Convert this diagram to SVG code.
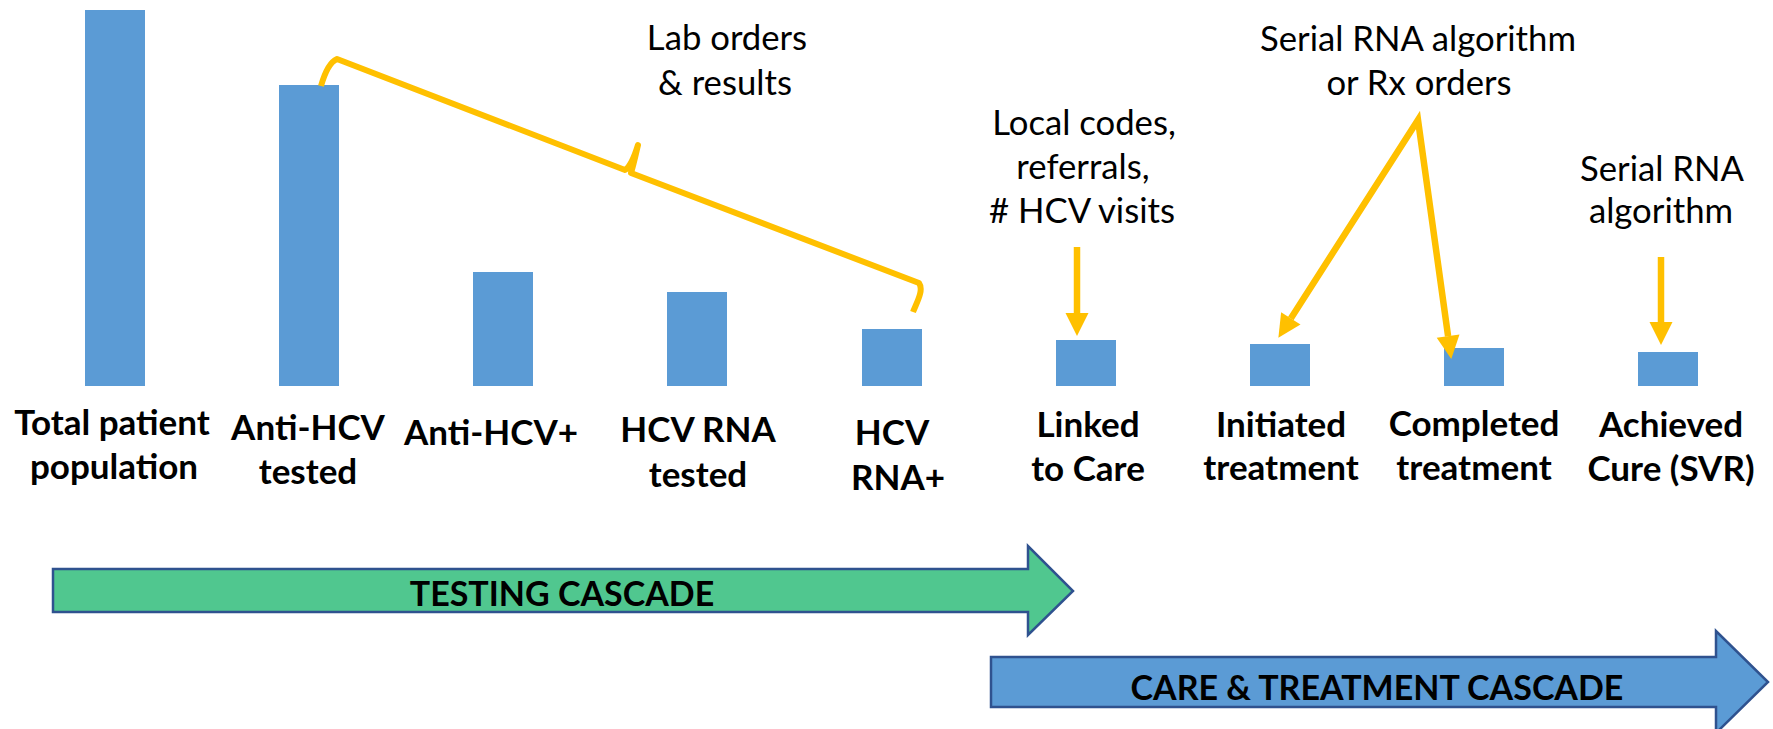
<svg xmlns="http://www.w3.org/2000/svg" width="1773" height="729" viewBox="0 0 1773 729">
  <style>
    .bar { fill: #5B9BD5; }
    .lbl { font-family: Lato, "Liberation Sans", sans-serif; font-weight: 700; font-size: 35px; fill: #000; text-anchor: middle; }
    .note { font-family: Lato, "Liberation Sans", sans-serif; font-weight: 400; font-size: 34.7px; fill: #000; text-anchor: middle; }
    .band { font-family: Lato, "Liberation Sans", sans-serif; font-weight: 700; font-size: 34px; fill: #000; text-anchor: middle; }
    .hl { fill: none; stroke: #FFC000; stroke-width: 6.5; }
    .brace { fill: none; stroke: #FFC000; stroke-width: 6; stroke-linejoin: round; }
    .shape { stroke: #2F528F; stroke-width: 2.5; stroke-linejoin: miter; }
  </style>
  <defs>
    <marker id="head" markerUnits="userSpaceOnUse" markerWidth="24" markerHeight="24" refX="0" refY="11.5" orient="auto-start-reverse" overflow="visible">
      <path d="M0,0 L23,11.5 L0,23 z" fill="#FFC000"/>
    </marker>
  </defs>
  <rect width="1773" height="729" fill="#FFFFFF"/>

  <!-- cascade stages: bar + label -->
  <g id="stage-total">
    <rect class="bar" x="85" y="10" width="60" height="376"/>
    <text class="lbl" x="112" y="435">Total patient</text>
    <text class="lbl" x="114" y="479">population</text>
  </g>
  <g id="stage-anti-hcv-tested">
    <rect class="bar" x="279" y="85" width="60" height="301"/>
    <text class="lbl" x="308" y="440">Anti-HCV</text>
    <text class="lbl" x="308" y="484">tested</text>
  </g>
  <g id="stage-anti-hcv-pos">
    <rect class="bar" x="473" y="272" width="60" height="114"/>
    <text class="lbl" x="491" y="445">Anti-HCV+</text>
  </g>
  <g id="stage-rna-tested">
    <rect class="bar" x="667" y="292" width="60" height="94"/>
    <text class="lbl" x="698" y="442">HCV RNA</text>
    <text class="lbl" x="698" y="487">tested</text>
  </g>
  <g id="stage-rna-pos">
    <rect class="bar" x="862" y="329" width="60" height="57"/>
    <text class="lbl" x="892" y="445">HCV</text>
    <text class="lbl" x="898" y="490">RNA+</text>
  </g>
  <g id="stage-linked">
    <rect class="bar" x="1056" y="340" width="60" height="46"/>
    <text class="lbl" x="1088" y="437">Linked</text>
    <text class="lbl" x="1088" y="481">to Care</text>
  </g>
  <g id="stage-initiated">
    <rect class="bar" x="1250" y="344" width="60" height="42"/>
    <text class="lbl" x="1281" y="437">Initiated</text>
    <text class="lbl" x="1281" y="480">treatment</text>
  </g>
  <g id="stage-completed">
    <rect class="bar" x="1444" y="348" width="60" height="38"/>
    <text class="lbl" x="1474" y="436">Completed</text>
    <text class="lbl" x="1474" y="480">treatment</text>
  </g>
  <g id="stage-cure">
    <rect class="bar" x="1638" y="352" width="60" height="34"/>
    <text class="lbl" x="1671" y="437">Achieved</text>
    <text class="lbl" x="1671" y="481">Cure (SVR)</text>
  </g>

  <!-- data source notes -->
  <g id="note-lab">
    <text class="note" x="727" y="50">Lab orders</text>
    <text class="note" x="725" y="95">&amp; results</text>
  </g>
  <g id="note-local">
    <text class="note" x="1084" y="135">Local codes,</text>
    <text class="note" x="1083" y="179">referrals,</text>
    <text class="note" x="1082" y="223"># HCV visits</text>
  </g>
  <g id="note-rx">
    <text class="note" x="1418" y="51">Serial RNA algorithm</text>
    <text class="note" x="1419" y="95">or Rx orders</text>
  </g>
  <g id="note-svr">
    <text class="note" x="1662" y="181">Serial RNA</text>
    <text class="note" x="1661" y="223">algorithm</text>
  </g>

  <!-- connectors: brace and pointer arrows -->
  <g id="connectors">
    <path class="brace" d="M321,86 C325,72 330,62 337,59 L625,170 C630,167 634,158 638,145 C635,158 633,167 631,173 L919,283 C924,290 917,302 913,312"/>
    <path class="hl" d="M1077,247 L1077,313" marker-end="url(#head)"/>
    <path class="hl" style="stroke-linejoin:miter" d="M1290.8,318.4 L1418,120 L1448.1,336.2" marker-start="url(#head)" marker-end="url(#head)"/>
    <path class="hl" d="M1661,257 L1661,322" marker-end="url(#head)"/>
  </g>

  <!-- cascade bands -->
  <g id="testing-cascade">
    <path class="shape" fill="#50C78F" d="M53,569 L1028,569 L1028,546 L1073,591 L1028,635 L1028,612 L53,612 z"/>
    <text class="band" x="562" y="606">TESTING CASCADE</text>
  </g>
  <g id="care-cascade">
    <path class="shape" fill="#5B9BD5" d="M991,657 L1716,657 L1716,631 L1768,682 L1716,733 L1716,707 L991,707 z"/>
    <text class="band" x="1377" y="700">CARE &amp; TREATMENT CASCADE</text>
  </g>
</svg>
